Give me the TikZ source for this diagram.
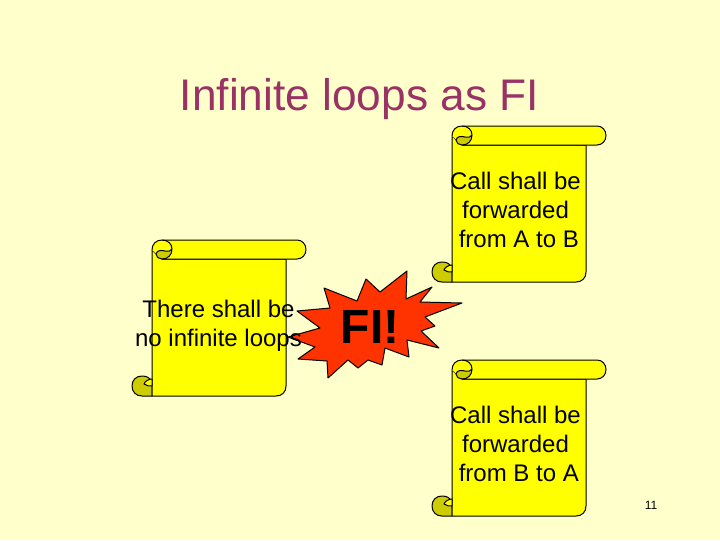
\documentclass[tikz,border=0pt]{standalone}
\usepackage{fontspec}
\setmainfont{Liberation Sans}
\definecolor{bgc}{RGB}{255,255,204}
\definecolor{scrollc}{RGB}{255,255,0}
\definecolor{foldc}{RGB}{204,204,0}
\definecolor{starc}{RGB}{255,51,0}
\definecolor{titlec}{RGB}{153,51,102}
\tikzset{
  scrollline/.style={draw=black,line width=0.75pt,line join=round},
  scrolltext/.style={font=\fontsize{18pt}{21.8pt}\selectfont,align=center,inner sep=0pt,text=black}
}
\newcommand{\scrollshape}[2]{%
\begin{scope}[shift={(#1,#2)}]
  \path[scrollline,fill=foldc] (-10,156) .. controls (-16,156) and (-20,152) .. (-20,146) .. controls (-20,140) and (-16,136) .. (-10,136) .. controls (-5,136) and (-2,138) .. (0,141) -- (0,156) -- cycle;
  \path[scrollline,fill=scrollc] (0,10) -- (0,156) -- (124,156) .. controls (130,156) and (134,152) .. (134,146) -- (134,19) -- (10,19) -- cycle;
  \path[scrollline,fill=scrollc] (0,10) .. controls (0,4) and (4,0) .. (10,0) -- (145,0) .. controls (150,0) and (154,4) .. (154,9.5) .. controls (154,15) and (150,19) .. (145,19) -- (10,19);
  \path[scrollline,fill=foldc] (4,14) .. controls (5,10) and (9,10) .. (13,11) .. controls (16,12) and (19,11) .. (20,9) .. controls (20,15) and (16,19) .. (10,19) .. controls (7,19) and (4,17) .. (4,14) -- cycle;
  \draw[scrollline] (10,0) .. controls (16,0) and (20,4) .. (20,9);
  \path[scrollline,fill=scrollc] (0,139) .. controls (-3,139) and (-7,141) .. (-8,144) .. controls (-5,146) and (-3,146) .. (0,146) -- cycle;
\end{scope}}
\begin{document}
\begin{tikzpicture}[x=0.75pt,y=-0.75pt]
\useasboundingbox (0,0) rectangle (720,540);
\fill[bgc] (0,0) rectangle (720,540);
\node[text=titlec,font=\fontsize{33.2pt}{36pt}\selectfont,inner sep=0pt] (title) at (359.5,99) {Infinite loops as FI};
\scrollshape{152}{240}
\scrollshape{452}{126}
\scrollshape{452}{360}
\path[scrollline,fill=starc] (297,311) -- (330,308) -- (324,288) -- (357,301) -- (366,279) -- (380,292) -- (407,271) -- (406,299) -- (432,287) -- (420,302) -- (462,303) -- (425,317) -- (435,326) -- (421,331) -- (439,348) -- (407,340) -- (409,357) -- (385,348) -- (382,365) -- (368,360) -- (358,368) -- (348,360) -- (328,378) -- (327,361) -- (298,359) -- (315,347) -- (288,337) -- (320,328) -- cycle;
\node[scrolltext] (s1) at (218.5,326) {There shall be\\no infinite loops};
\node[scrolltext] (s2) at (515.5,210) {Call shall be\\forwarded\\\hspace*{5pt}from A to B};
\node[scrolltext] (s3) at (515.5,444) {Call shall be\\forwarded\\\hspace*{5pt}from B to A};
\node[font=\bfseries\fontsize{36pt}{44pt}\selectfont,inner sep=0pt] (fi) at (370,327) {FI!};
\node[font=\fontsize{9pt}{11pt}\selectfont,inner sep=0pt] (num) at (651,505) {11};
\end{tikzpicture}
\end{document}
